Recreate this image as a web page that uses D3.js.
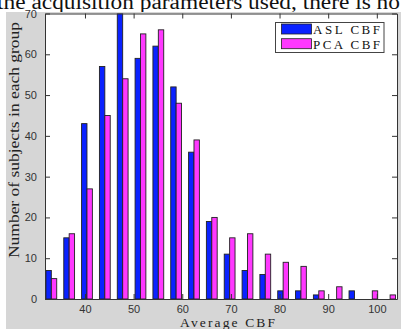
<!DOCTYPE html>
<html><head><meta charset="utf-8">
<script src="https://cdn.jsdelivr.net/npm/d3@7/dist/d3.min.js"></script>
<style>html,body{margin:0;padding:0;background:#fff;overflow:hidden}</style>
</head><body>
<svg id="c" width="401" height="329"></svg>
<script>
// ---- data ----
const binCenters = [33.08, 36.75, 40.41, 44.08, 47.75, 51.41, 55.08, 58.74, 62.41, 66.07,
                    69.74, 73.41, 77.07, 80.74, 84.40, 88.07, 91.74, 95.40, 99.07, 102.73];
const aslCBF = [7, 15, 43, 57, 70, 59, 62, 52, 36, 19, 11, 7, 6, 2, 2, 1, 0, 2, 0, 0];
const pcaCBF = [5, 16, 27, 45, 54, 65, 66, 48, 39, 20, 15, 16, 11, 9, 8, 2, 3, 0, 2, 1];
const seriesNames = ["ASL CBF", "PCA CBF"];
const xTicks = [40, 50, 60, 70, 80, 90, 100];
const yTicks = [0, 10, 20, 30, 40, 50, 60, 70];
const xLabel = "Average CBF";
const yLabel = "Number of subjects in each group";
const topText = "the acquisition parameters used, there is no";

// ---- layout ----
const svg = d3.select("#c");
const L = 45, R = 397, T = 13.5, B = 299;
const x = d3.scaleLinear().domain([31.78, 104.15]).range([L, R]);
const y = d3.scaleLinear().domain([0, 70]).range([B, T]);
const barW = 1.11; // in data units
const colors = ["#0a22ff", "#ff38ff"];

// paper text cut off at top
svg.append("text").attr("x", -3).attr("y", 9)
  .attr("font-family", "Liberation Serif, Times New Roman, serif")
  .attr("font-size", 20).attr("fill", "#111")
  .attr("textLength", 403).attr("lengthAdjust", "spacingAndGlyphs")
  .text(topText);

// figure background
svg.append("rect").attr("x", 6).attr("y", 12).attr("width", 401 - 6).attr("height", 329 - 12)
  .attr("fill", "#d6d6d6");

// plot area
svg.append("rect").attr("x", L).attr("y", T).attr("width", R - L).attr("height", B - T)
  .attr("fill", "#fff");

svg.append("clipPath").attr("id", "clip").append("rect")
  .attr("x", L).attr("y", T).attr("width", R - L).attr("height", B - T);

const g = svg.append("g").attr("clip-path", "url(#clip)");
const series = [aslCBF, pcaCBF];
series.forEach((vals, si) => {
  g.selectAll(".b" + si).data(vals).join("rect")
    .attr("x", (d, i) => si === 0 ? x(binCenters[i] - barW) : x(binCenters[i]))
    .attr("width", (d, i) => x(binCenters[i] + barW) - x(binCenters[i]))
    .attr("y", d => y(d))
    .attr("height", d => y(0) - y(d))
    .attr("fill", colors[si])
    .attr("stroke", "#222")
    .attr("stroke-width", 0.9);
});

// axes (MATLAB style: box, inward ticks on all sides)
const axCol = "#333";
const tickLen = 5;
const fontSans = "Liberation Sans, Arial, Helvetica, sans-serif";

const axB = svg.append("g").attr("transform", `translate(0,${B})`)
  .call(d3.axisBottom(x).tickValues(xTicks).tickSizeInner(-tickLen).tickSizeOuter(0).tickPadding(6).tickFormat(d3.format("d")));
const axT = svg.append("g").attr("transform", `translate(0,${T})`)
  .call(d3.axisTop(x).tickValues(xTicks).tickSizeInner(-tickLen).tickSizeOuter(0).tickFormat(""));
const axL = svg.append("g").attr("transform", `translate(${L},0)`)
  .call(d3.axisLeft(y).tickValues(yTicks).tickSizeInner(-tickLen).tickSizeOuter(0).tickPadding(8).tickFormat(d3.format("d")));
const axR = svg.append("g").attr("transform", `translate(${R},0)`)
  .call(d3.axisRight(y).tickValues(yTicks).tickSizeInner(-tickLen).tickSizeOuter(0).tickFormat(""));
[axB, axT, axL, axR].forEach(a => {
  a.select(".domain").attr("stroke", axCol).attr("stroke-width", 1);
  a.selectAll(".tick line").attr("stroke", axCol);
  a.selectAll("text").attr("font-family", fontSans).attr("font-size", 11).attr("fill", "#333");
});
axB.selectAll(".tick text").attr("dy", "0.71em");

// axis labels
const fontSerif = "Liberation Serif, Times New Roman, serif";
svg.append("text").attr("transform", `translate(19,${(22 + 258) / 2}) rotate(-90)`)
  .attr("text-anchor", "middle").attr("font-family", fontSerif).attr("font-size", 15)
  .attr("fill", "#222").attr("textLength", 236).attr("lengthAdjust", "spacingAndGlyphs")
  .text(yLabel);
svg.append("text").attr("x", (180 + 275) / 2).attr("y", 327)
  .attr("text-anchor", "middle").attr("font-family", fontSerif).attr("font-size", 13.5)
  .attr("fill", "#222").attr("textLength", 95).attr("lengthAdjust", "spacing")
  .text(xLabel);

// legend
const lg = svg.append("g");
lg.append("rect").attr("x", 275.5).attr("y", 22.5).attr("width", 108.5).attr("height", 30)
  .attr("fill", "#fff").attr("stroke", "#444").attr("stroke-width", 1);
seriesNames.forEach((name, i) => {
  const yy = 24 + i * 14.7;
  lg.append("rect").attr("x", 281.5).attr("y", yy).attr("width", 30).attr("height", 10)
    .attr("fill", colors[i]).attr("stroke", "#222").attr("stroke-width", 0.8);
  lg.append("text").attr("x", 313).attr("y", yy + 10)
    .attr("font-family", fontSerif).attr("font-size", 13).attr("fill", "#111")
    .attr("textLength", 67).attr("lengthAdjust", "spacing")
    .text(name.toUpperCase());
});
</script>
</body></html>
